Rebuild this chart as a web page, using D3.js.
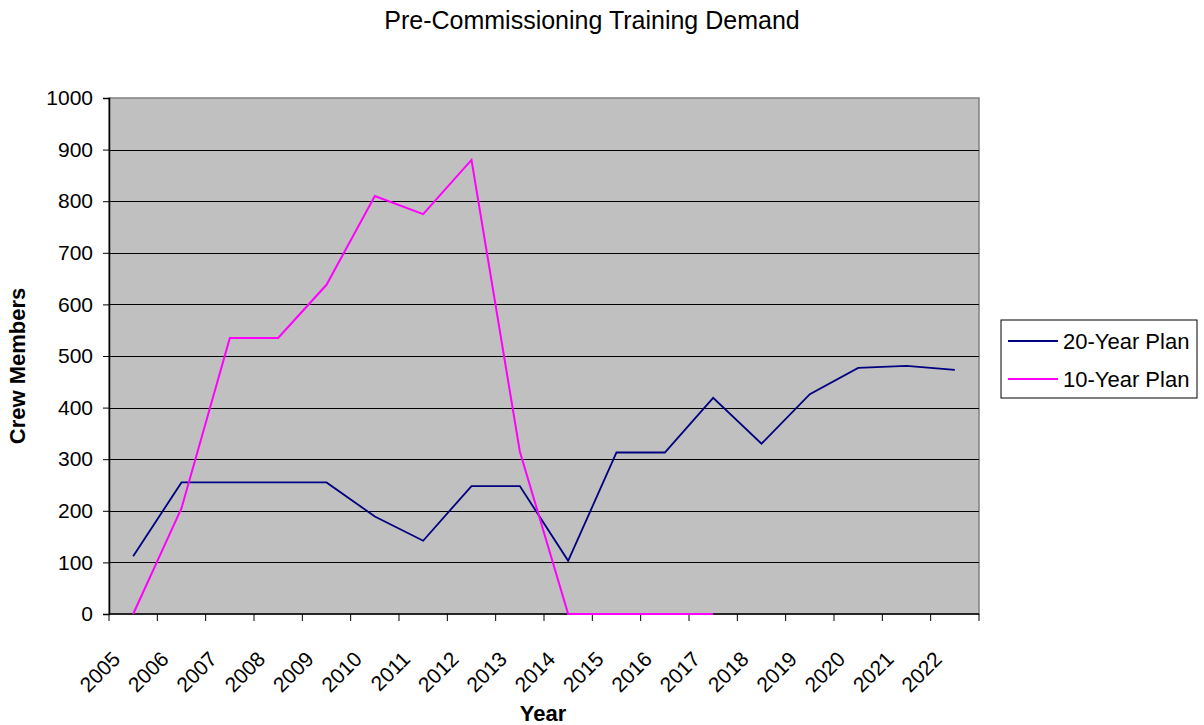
<!DOCTYPE html>
<html>
<head>
<meta charset="utf-8">
<script src="https://cdn.jsdelivr.net/npm/d3@7"></script>
<style>
  body { margin: 0; background: #fff; }
  text { font-family: Arial, "Liberation Sans", sans-serif; }
</style>
</head>
<body>
<div id="chart"></div>
<script>
var width  = 1204;
var height = 725;

var years = ["2005", "2006", "2007", "2008", "2009", "2010", "2011", "2012", "2013",
             "2014", "2015", "2016", "2017", "2018", "2019", "2020", "2021", "2022"];
var plan20 = [112, 255, 255, 255, 255, 189, 142, 248, 248, 103, 313, 313, 419, 330, 426, 477, 481, 473];
var plan10 = [0, 205, 535, 535, 638, 810, 775, 880, 315, 0, 0, 0, 0, null, null, null, null, null];
var yTicks = [0, 100, 200, 300, 400, 500, 600, 700, 800, 900, 1000];

var series = [
  { name: "20-Year Plan", values: plan20, color: "#000080", width: 1.8 },
  { name: "10-Year Plan", values: plan10, color: "#ff00ff", width: 2 }
];

var margin = { left: 109, right: 1204 - 979, top: 98, bottom: 725 - 614 };

var svg = d3.select('#chart')
  .append('svg')
  .attr('width', width)
  .attr('height', height);

var x = d3.scaleBand()
  .domain(years)
  .range([margin.left, width - margin.right]);

var y = d3.scaleLinear()
  .domain([0, 1000])
  .range([height - margin.bottom, margin.top]);

// plot area
svg.append('rect')
  .attr('x', margin.left)
  .attr('y', margin.top)
  .attr('width', width - margin.left - margin.right)
  .attr('height', height - margin.top - margin.bottom)
  .style('fill', '#c0c0c0')
  .style('stroke', '#808080')
  .style('stroke-width', 1.5);

// gridlines
svg.append('g')
  .selectAll('line')
  .data(yTicks.slice(1, -1))
  .enter()
  .append('line')
  .attr('x1', margin.left)
  .attr('x2', width - margin.right)
  .attr('y1', function(d) { return Math.round(y(d)) + 0.5; })
  .attr('y2', function(d) { return Math.round(y(d)) + 0.5; })
  .style('stroke', '#000')
  .style('stroke-width', 1);

// y axis
var yAxis = svg.append('g')
  .attr('transform', 'translate(' + margin.left + ',0)')
  .call(d3.axisLeft(y).tickValues(yTicks).tickSize(6).tickPadding(10).tickFormat(d3.format('d')));
yAxis.select('.domain').style('stroke', '#000').style('stroke-width', 1.5);
yAxis.selectAll('.tick line').style('stroke', '#000');
yAxis.selectAll('text').style('font-size', '21px').style('fill', '#000');

// x axis: ticks between categories
var xAxisG = svg.append('g')
  .attr('transform', 'translate(0,' + (height - margin.bottom) + ')');
xAxisG.append('line')
  .attr('x1', margin.left)
  .attr('x2', width - margin.right)
  .style('stroke', '#000')
  .style('stroke-width', 1.5);
var bounds = years.map(function(d) { return x(d); }).concat([width - margin.right]);
xAxisG.selectAll('.xtick')
  .data(bounds)
  .enter()
  .append('line')
  .attr('class', 'xtick')
  .attr('x1', function(d) { return d; })
  .attr('x2', function(d) { return d; })
  .attr('y1', 0)
  .attr('y2', 7)
  .style('stroke', '#000');
xAxisG.selectAll('.xlabel')
  .data(years)
  .enter()
  .append('text')
  .attr('class', 'xlabel')
  .attr('transform', function(d) {
    return 'translate(' + (x(d) + x.bandwidth() / 2 - 22) + ',' + 36 + ')rotate(-45)';
  })
  .attr('text-anchor', 'end')
  .attr('dy', '0.7em')
  .style('font-size', '21px')
  .text(function(d) { return d; });

// lines
var line = d3.line()
  .defined(function(d) { return d != null; })
  .x(function(d, i) { return x(years[i]) + x.bandwidth() / 2; })
  .y(function(d) { return y(d); });

svg.selectAll('.series')
  .data(series)
  .enter()
  .append('path')
  .attr('class', 'series')
  .attr('d', function(s) { return line(s.values); })
  .style('fill', 'none')
  .style('stroke', function(s) { return s.color; })
  .style('stroke-width', function(s) { return s.width; });

// title and axis titles
svg.append('text')
  .attr('x', 592)
  .attr('y', 29)
  .attr('text-anchor', 'middle')
  .style('font-size', '25px')
  .text('Pre-Commissioning Training Demand');

svg.append('text')
  .attr('x', 543)
  .attr('y', 721)
  .attr('text-anchor', 'middle')
  .style('font-size', '22px')
  .style('font-weight', 'bold')
  .text('Year');

svg.append('text')
  .attr('transform', 'translate(25,' + 366 + ')rotate(-90)')
  .attr('text-anchor', 'middle')
  .style('font-size', '22px')
  .style('font-weight', 'bold')
  .text('Crew Members');

// legend
var legend = svg.append('g').attr('transform', 'translate(1001,320)');
legend.append('rect')
  .attr('width', 196)
  .attr('height', 78)
  .style('fill', '#fff')
  .style('stroke', '#000');
var items = legend.selectAll('.item')
  .data(series)
  .enter()
  .append('g')
  .attr('transform', function(s, i) { return 'translate(0,' + (21 + i * 38) + ')'; });
items.append('line')
  .attr('x1', 7).attr('x2', 57)
  .style('stroke', function(s) { return s.color; })
  .style('stroke-width', 2);
items.append('text')
  .attr('x', 62)
  .attr('dy', '0.35em')
  .style('font-size', '22px')
  .text(function(s) { return s.name; });
</script>
</body>
</html>
